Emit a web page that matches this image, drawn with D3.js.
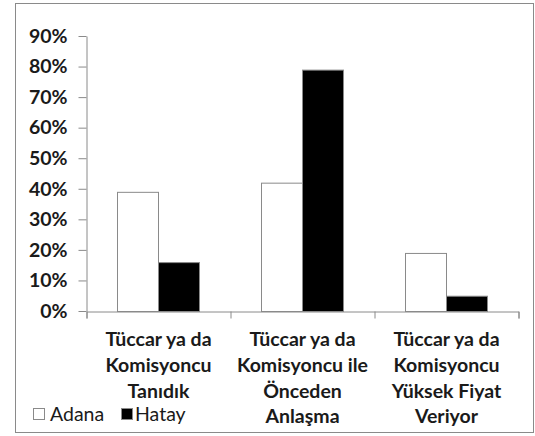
<!DOCTYPE html>
<html><head><meta charset="utf-8">
<script src="https://cdn.jsdelivr.net/npm/d3@7"></script>
<style>body{margin:0;background:#fff}svg{display:block}</style>
</head><body>
<script>
const categories = [
  ["Tüccar ya da","Komisyoncu","Tanıdık"],
  ["Tüccar ya da","Komisyoncu ile","Önceden","Anlaşma"],
  ["Tüccar ya da","Komisyoncu","Yüksek Fiyat","Veriyor"]
];
const seriesNames = ["Adana","Hatay"];
const adana = [0.39, 0.42, 0.19];
const hatay = [0.16, 0.79, 0.05];
const yTicks = [0,0.1,0.2,0.3,0.4,0.5,0.6,0.7,0.8,0.9];

const W = 535, H = 436;
const svg = d3.select("body").append("svg").attr("width", W).attr("height", H);
svg.append("rect").attr("x",15.5).attr("y",3.5).attr("width",518).attr("height",429)
  .attr("fill","#fff").attr("stroke","#8a8a8a").attr("stroke-width",1);

const x0 = 86, x1 = 518, y0 = 311, yTop = 36;
const x = d3.scaleBand().domain(d3.range(categories.length)).range([x0,x1]).paddingInner(0).paddingOuter(0);
const y = d3.scaleLinear().domain([0,0.9]).range([y0,yTop]);
const xs = d3.scaleBand().domain(seriesNames).range([0,x.bandwidth()]).paddingInner(0).paddingOuter(0.756);

const font = "Lato, 'Open Sans', sans-serif";
const fs = "19.5px";
const txt = "#1a1a1a";

// y axis
const yAxis = d3.axisLeft(y).tickValues(yTicks).tickFormat(d3.format(".0%")).tickSize(8).tickSizeOuter(0);
const gy = svg.append("g").attr("transform",`translate(${x0+0.5},0)`).call(yAxis);
gy.select(".domain").attr("stroke","#8a8a8a");
gy.selectAll(".tick line").attr("stroke","#8a8a8a");
gy.selectAll(".tick text").attr("x",-19).attr("fill",txt).attr("font-family",font)
  .attr("font-weight","bold").attr("font-size",fs);

// bars
const data = categories.map((c,i)=>({i, vals:[adana[i], hatay[i]]}));
const groups = svg.append("g").selectAll("g").data(data).join("g")
  .attr("transform",d=>`translate(${x(d.i)},0)`);
groups.selectAll("rect").data(d=>d.vals.map((v,k)=>({v,k}))).join("rect")
  .attr("x",d=>xs(seriesNames[d.k])+0.5)
  .attr("y",d=>y(d.v)+0.5)
  .attr("width",xs.bandwidth())
  .attr("height",d=>y0-y(d.v))
  .attr("fill",d=>d.k===0?"#fff":"#000")
  .attr("stroke","#8a8a8a").attr("stroke-width",1);

// x axis
const xAxis = d3.axisBottom(d3.scaleLinear().domain([0,3]).range([x0,x1])).tickValues([0,1,2,3]).tickSize(7).tickFormat("");
const gx = svg.append("g").attr("transform",`translate(0.5,${y0+0.5})`).call(xAxis);
gx.select(".domain").attr("stroke","#8a8a8a");
gx.selectAll(".tick line").attr("stroke","#8a8a8a");

// category labels
const lineY = [346, 372, 398, 423];
categories.forEach((lines,i)=>{
  lines.forEach((t,j)=>{
    svg.append("text").attr("x",x(i)+x.bandwidth()/2+0.5).attr("y",lineY[j])
      .attr("text-anchor","middle").attr("font-family",font).attr("font-weight","bold")
      .attr("font-size",fs).attr("fill",txt).text(t);
  });
});

// legend
const lg = svg.append("g");
const legendX = [33, 121];
const legendTX = [50, 135];
seriesNames.forEach((s,k)=>{
  lg.append("rect").attr("x",legendX[k]+0.5).attr("y",408.5).attr("width",11).attr("height",11)
    .attr("fill",k===0?"#fff":"#000").attr("stroke","#8a8a8a");
  lg.append("text").attr("x",legendTX[k]).attr("y",421).attr("font-family",font)
    .attr("font-size",fs).attr("fill",txt).text(s);
});
</script>
</body></html>
